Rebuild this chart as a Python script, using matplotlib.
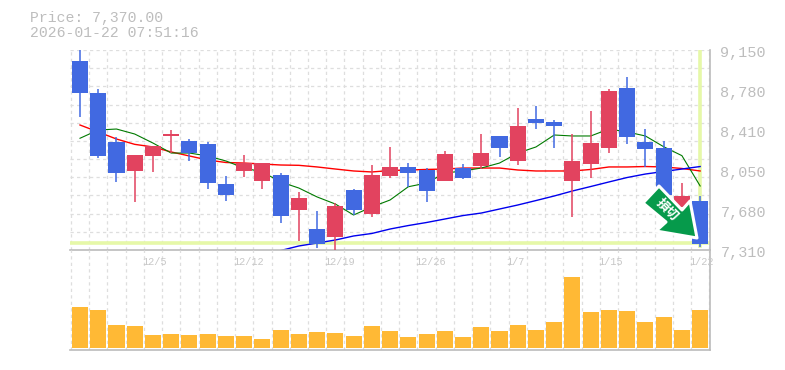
#!/usr/bin/env python3
# -*- coding: utf-8 -*-
"""
Candlestick chart with moving averages and volume
"""

import numpy as np
from matplotlib import pyplot as plt
from matplotlib.patches import Polygon
from matplotlib.transforms import IdentityTransform

#%% Data
body_top = [9049, 8754, 8304, 8184, 8267, 8377, 8313, 8285, 7917, 8108, 8110, 8000,
            7788, 7503, 7715, 7862, 8000, 8074, 8074, 8046, 8193, 8064, 8202, 8359,
            8451, 8515, 8488, 8129, 8294, 8773, 8800, 8304, 8248, 7807, 7761]
body_bottom = [8757, 8175, 8021, 8040, 8178, 8362, 8205, 7929, 7819, 8040, 7948, 7626,
               7681, 7368, 7432, 7681, 7644, 7994, 8021, 7856, 7948, 7975, 8086, 8251,
               8132, 8481, 8454, 7948, 8104, 8251, 8352, 8242, 7816, 7706, 7368]
high = [9150, 8791, 8347, 8184, 8267, 8414, 8331, 8301, 7991, 8184, 8110, 8018,
        7844, 7669, 7740, 7871, 8092, 8258, 8110, 8064, 8221, 8101, 8377, 8359,
        8616, 8635, 8506, 8377, 8589, 8791, 8902, 8423, 8313, 7926, 7807]
low = [8536, 8159, 7938, 7754, 8030, 8205, 8132, 7874, 7764, 7984, 7874, 7561,
       7396, 7331, 7310, 7635, 7616, 7975, 7892, 7754, 7948, 7963, 8055, 8168,
       8095, 8426, 8251, 7616, 7975, 8205, 8288, 8076, 7798, 7706, 7338]
is_up = [0, 0, 0, 1, 1, 1, 0, 0, 0, 1, 1, 0, 1, 0, 1, 0, 1, 1, 0, 0, 1, 0, 1, 0,
         1, 0, 0, 1, 1, 1, 0, 0, 0, 1, 0]
short_ma = [8338, 8414, 8423, 8377, 8294, 8202, 8202, 8175, 8129, 8064, 8028, 7936,
            7880, 7798, 7733, 7632, 7706, 7770, 7892, 7926, 8018, 8037, 8064, 8110,
            8202, 8258, 8368, 8359, 8359, 8423, 8396, 8359, 8260, 8178, 7899]
mid_ma = [8460, 8396, 8331, 8282, 8258, 8212, 8175, 8138, 8115, 8110, 8101, 8092,
          8089, 8074, 8055, 8037, 8028, 8041, 8046, 8051, 8055, 8064, 8064, 8064,
          8046, 8037, 8037, 8037, 8051, 8074, 8074, 8078, 8074, 8060, 8037]
long_ma = [np.nan] * 10 + [7264, 7305, 7347, 7374, 7402, 7439, 7462, 7503, 7535,
                           7563, 7595, 7627, 7650, 7687, 7724, 7765, 7807, 7853,
                           7894, 7936, 7977, 8009, 8032, 8055, 8078]
volume = [41, 38, 23, 22, 13, 14, 13, 14, 12, 12, 9, 18, 14, 16, 15, 12, 22, 17,
          11, 14, 17, 11, 21, 17, 23, 18, 26, 71, 36, 38, 37, 26, 31, 18, 38]
date_labels = ['12/5', '12/12', '12/19', '12/26', '1/7', '1/15', '1/22']
date_index = [4, 9, 14, 19, 24, 29, 34]
price_ticks = [7310, 7680, 8050, 8410, 8780, 9150]
last_price = 7370

#%% Figure
W, H = 785, 370
RED, BLUE = '#e2435f', '#4169e1'
GRID, AXIS, TXT = '#dedede', '#bbbbbb', '#bdbdbd'
YELLOW = '#e6f8a8'
MONO = 'Liberation Mono'


def box(x0, y0, x1, y1):
    return [x0 / W, 1 - y1 / H, (x1 - x0) / W, (y1 - y0) / H]


fig = plt.figure(figsize=(W / 100, H / 100), dpi=100)
ax = fig.add_axes(box(70, 50, 710, 250))
vol = fig.add_axes(box(70, 250, 710, 350))

n = len(volume)
x = np.arange(n)
for a in (ax, vol):
    a.set_xticks([])
    a.set_yticks([])
    a.patch.set_alpha(0)
    for s in a.spines.values():
        s.set_visible(False)
    for s in ('bottom', 'right'):
        a.spines[s].set_visible(True)
        a.spines[s].set_color(AXIS)
        a.spines[s].set_linewidth(1.2)
    for g in np.arange(-0.5, n):
        a.axvline(g, color=GRID, lw=0.9, ls=(0, (2.6, 2.6)), zorder=0)

for g in np.linspace(7310, 9150, 12)[1:]:
    ax.axhline(g, color=GRID, lw=0.9, ls=(0, (2.6, 2.6)), zorder=0)

# current price lines
ax.axhline(last_price, color=YELLOW, lw=2.6, zorder=1)
ax.plot([n - 1, n - 1], [7330, 9150], color=YELLOW, lw=2.6, zorder=1, solid_capstyle='butt')

# moving averages go under the candles
ax.plot(x, mid_ma, color='#ff0000', lw=1.0, zorder=2)
ax.plot(x, short_ma, color='#007a00', lw=0.8, zorder=2)
ax.plot(x, long_ma, color='#0000ee', lw=1.0, zorder=2)

# candles
for i in range(n):
    col = RED if is_up[i] else BLUE
    ax.plot([i, i], [low[i], high[i]], color=col, lw=1.1, zorder=3, solid_capstyle='butt')
    ax.bar(i, body_top[i] - body_bottom[i], bottom=body_bottom[i], width=0.88,
           color=col, zorder=3)

ax.set_xlim(-0.548, n - 1 + 0.54)
ax.set_ylim(7310, 9150)

vol.bar(x, volume, width=0.88, color='#ffb935', zorder=3)
vol.set_xlim(-0.548, n - 1 + 0.54)
vol.set_ylim(-2, 98)

# text
for s, i in zip(date_labels, date_index):
    vol.annotate(s, (i, 1), xycoords=('data', 'axes fraction'), xytext=(-8, -8.3),
                 textcoords='offset points', color='#c8c8c8', fontsize=7.4,
                 family=MONO, ha='left', va='center')
for p in price_ticks:
    ax.annotate(f'{p:,}', (1, (p - 7310) / 1840), xycoords='axes fraction', xytext=(7.5, -2.2),
                textcoords='offset points', color=TXT, fontsize=10.9, family=MONO,
                ha='left', va='center')
fig.text(30 / W, 1 - 18 / H, f'Price: {last_price:,}.00', color=TXT, fontsize=10.6,
         family=MONO, va='center')
fig.text(30 / W, 1 - 33 / H, '2026-01-22 07:51:16', color=TXT, fontsize=10.6,
         family=MONO, va='center')

# stop loss arrow
pts = np.array([(643, 203), (659, 186), (682, 210), (690, 201), (697, 238), (656, 231),
                (666, 222)], dtype=float)
pts[:, 1] = H - pts[:, 1]
fig.add_artist(Polygon(pts, closed=True, transform=IdentityTransform(),
                       facecolor='#069a4b', edgecolor='white', lw=2.2, joinstyle='round',
                       zorder=10))
fig.text(667 / W, 1 - 209.5 / H, '損切', color='white', fontsize=9.2, fontweight='bold',
         family=['Noto Sans CJK JP', 'DejaVu Sans'], rotation=-45, ha='center', va='center',
         rotation_mode='anchor', zorder=11)

fig.savefig('out.png', dpi=100)
